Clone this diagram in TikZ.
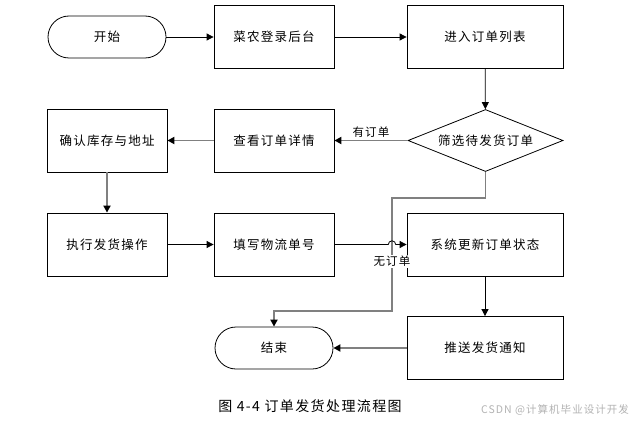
\documentclass[tikz,border=0pt]{standalone}
\usepackage{fontspec}
\setmainfont[LetterSpace=10]{Noto Sans CJK SC}
\usetikzlibrary{arrows.meta,shapes.geometric}
\begin{document}
\begin{tikzpicture}[x=1pt,y=1pt,>={Triangle[length=7pt,width=7pt,color=black]},
    box/.style={draw,line width=0.8pt,minimum width=120pt,minimum height=63pt,font=\fontsize{12.5}{14}\selectfont},
    wbox/.style={box,minimum width=156pt},
    term/.style={box,minimum width=118pt,minimum height=42pt,rounded corners=21pt},
    decide/.style={draw,diamond,line width=0.8pt,aspect=2.5,inner sep=0pt,minimum width=155pt,minimum height=62pt,font=\fontsize{12.5}{14}\selectfont},
    gline/.style={draw=gray,line width=1.8pt},
    bline/.style={line width=0.8pt},
    lbl/.style={font=\fontsize{11.5}{13}\selectfont,inner sep=1.5pt}]
    \useasboundingbox (0,0) rectangle (636,421);
    % nodes
    \node[term] (start) at (107,384) {开始};
    \node[box] (login) at (274,384) {菜农登录后台};
    \node[wbox] (list) at (485,384) {进入订单列表};
    \node[decide] (filter) at (485.5,280.5) {筛选待发货订单};
    \node[box] (detail) at (274,280.5) {查看订单详情};
    \node[box] (check) at (107,280.5) {确认库存与地址};
    \node[box] (ship) at (107,176.5) {执行发货操作};
    \node[box] (track) at (274,176.5) {填写物流单号};
    \node[wbox] (update) at (485,176.5) {系统更新订单状态};
    \node[wbox] (notify) at (485,73) {推送发货通知};
    \node[term] (end) at (274,73) {结束};
    \coordinate (hop) at (388.3,176.5);
    \coordinate (n1) at (485.5,223);
    \coordinate (n2) at (392,223);
    \coordinate (n3) at (392,110);
    \coordinate (n4) at (274,110);
    % connectors
    \draw[bline,->] (start) -- (login);
    \draw[bline,->] (login) -- (list);
    \draw[bline,->] (list) -- (filter);
    \draw[gline,->] (filter) -- node[lbl,above=1pt] {有订单} (detail);
    \draw[gline,->] (detail) -- (check);
    \draw[gline,->] (check) -- (ship);
    \draw[bline,->] (ship) -- (track);
    \draw[gline,->] (filter.south) -- (n1) -- (n2) -- node[lbl,fill=white,pos=0.56] {无订单} (n3) -- (n4) -- (end);
    \draw[bline,->] (track.east) -- (hop) arc[start angle=180,end angle=0,radius=3.7] -- (update.west);
    \draw[bline,->] (update) -- (notify);
    \draw[gline,->] (notify) -- (end);
    % caption
    \node[font=\fontsize{14}{16}\selectfont] (cap) at (310,15) {图 4-4 订单发货处理流程图};
    \node[font=\fontsize{10.5}{12}\selectfont,text=gray!60] (mark) at (555,11) {CSDN @计算机毕业设计开发};
\end{tikzpicture}
\end{document}
